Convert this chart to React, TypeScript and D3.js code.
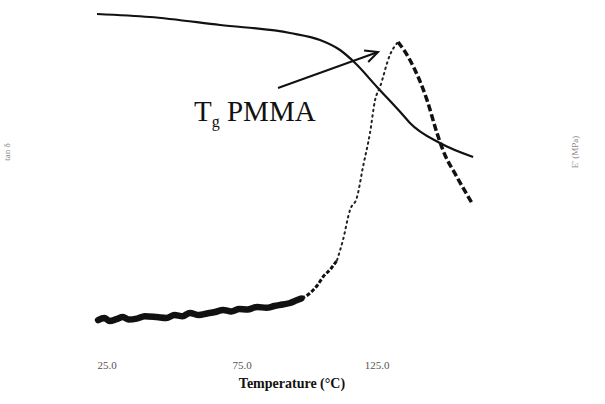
import React from "react";
import * as d3 from "d3";

// temperature (°C) and tan delta
const tanBaseT = [21.7, 24, 26, 28.5, 30.9, 33, 36, 39, 43.5, 47, 50, 53, 55.7, 59, 62, 65, 68.0, 71, 74, 77, 80.6, 84, 87, 90, 92.8, 95, 97];
const tanBaseV = [0.033, 0.04, 0.03, 0.036, 0.043, 0.035, 0.038, 0.046, 0.043, 0.04, 0.05, 0.046, 0.057, 0.05, 0.055, 0.06, 0.067, 0.062, 0.07, 0.068, 0.077, 0.074, 0.08, 0.085, 0.09, 0.098, 0.105];
const tanMidT = [97, 100.2, 103, 105.0, 108, 110.2];
const tanMidV = [0.105, 0.123, 0.15, 0.177, 0.205, 0.233];
const tanRiseT = [110.2, 112.4, 115.0, 117.6, 119.8, 122.4, 124.3, 126.1, 129.8, 132.8];
const tanRiseV = [0.233, 0.3, 0.4, 0.443, 0.543, 0.657, 0.767, 0.81, 0.917, 0.96];
const tanFallT = [132.8, 137.2, 143.5, 147.2, 149.4, 154.6, 160.2];
const tanFallV = [0.96, 0.9, 0.767, 0.657, 0.6, 0.51, 0.423];

// storage modulus E' (MPa)
const modT = [21.3, 40.9, 66.9, 92.8, 103.9, 111.3, 116.9, 125, 134.6, 137.2, 148.3, 160.6];
const modV = [3160, 3130, 3050, 2970, 2900, 2800, 2670, 2430, 2150, 2070, 1870, 1730];

const xTicks = [25, 75, 125];
const xTickLabels = ["25.0", "75.0", "125.0"];

const W = 605;
const H = 404;

export default function App() {
  const x = d3.scaleLinear().domain([25, 125]).range([107, 377]);
  const yTan = d3.scaleLinear().domain([0, 1]).range([330, 30]);
  const yMod = d3.scaleLinear().domain([0, 3200]).range([330, 10]);

  const tanLine = d3
    .line<[number, number]>()
    .x((d) => x(d[0]))
    .y((d) => yTan(d[1]))
    .curve(d3.curveMonotoneX);
  const modLine = d3
    .line<[number, number]>()
    .x((d) => x(d[0]))
    .y((d) => yMod(d[1]))
    .curve(d3.curveMonotoneX);

  const zip = (a: number[], b: number[]) => a.map((t, i) => [t, b[i]] as [number, number]);

  const serif = "'Liberation Serif', 'DejaVu Serif', serif";

  // arrow pointing to the tan delta peak
  const ax0 = 278, ay0 = 88, ax1 = 378, ay1 = 52;
  const ang = Math.atan2(ay1 - ay0, ax1 - ax0);
  const hl = 14;
  const h1 = [ax1 - hl * Math.cos(ang - 0.45), ay1 - hl * Math.sin(ang - 0.45)];
  const h2 = [ax1 - hl * Math.cos(ang + 0.45), ay1 - hl * Math.sin(ang + 0.45)];

  return (
    <svg
      width={W}
      height={H}
      style={{ position: "absolute", left: 0, top: 0, background: "#fff" }}
    >
      {/* E' curve */}
      <path d={modLine(zip(modT, modV)) || ""} fill="none" stroke="#111" strokeWidth={2.2} />

      {/* tan delta: noisy baseline, thick clusters, dotted rise, dashed fall */}
      <path
        d={tanLine(zip(tanBaseT, tanBaseV)) || ""}
        fill="none"
        stroke="#111"
        strokeWidth={6.5}
        strokeLinecap="round"
      />
      <path
        d={tanLine(zip(tanMidT, tanMidV)) || ""}
        fill="none"
        stroke="#111"
        strokeWidth={3}
        strokeDasharray="4 2"
      />
      <path
        d={tanLine(zip(tanRiseT, tanRiseV)) || ""}
        fill="none"
        stroke="#222"
        strokeWidth={2}
        strokeDasharray="1.5 4"
        strokeLinecap="round"
      />
      <path
        d={tanLine(zip(tanFallT, tanFallV)) || ""}
        fill="none"
        stroke="#111"
        strokeWidth={3.5}
        strokeDasharray="7 3"
      />

      {/* annotation */}
      <line x1={ax0} y1={ay0} x2={ax1} y2={ay1} stroke="#111" strokeWidth={2} />
      <polyline
        points={`${h1[0]},${h1[1]} ${ax1},${ay1} ${h2[0]},${h2[1]}`}
        fill="none"
        stroke="#111"
        strokeWidth={2}
      />
      <text x={194} y={121} fontFamily={serif} fontSize={29} fill="#111">
        T<tspan fontSize={16} dy={6}>g</tspan>
        <tspan dy={-6}> PMMA</tspan>
      </text>

      {/* x tick labels */}
      {xTicks.map((t, i) => (
        <text
          key={t}
          x={x(t)}
          y={369}
          textAnchor="middle"
          fontFamily={serif}
          fontSize={11}
          fill="#555"
        >
          {xTickLabels[i]}
        </text>
      ))}
      <text
        x={292}
        y={388}
        textAnchor="middle"
        fontFamily={serif}
        fontSize={14}
        fontWeight="bold"
        fill="#111"
      >
        Temperature (°C)
      </text>

      {/* faint axis titles */}
      <text
        transform="translate(10,152) rotate(-90)"
        textAnchor="middle"
        fontFamily={serif}
        fontSize={9}
        fill="#888"
      >
        tan δ
      </text>
      <text
        transform="translate(578,152) rotate(-90)"
        textAnchor="middle"
        fontFamily={serif}
        fontSize={9}
        fill="#888"
      >
        E' (MPa)
      </text>
    </svg>
  );
}
